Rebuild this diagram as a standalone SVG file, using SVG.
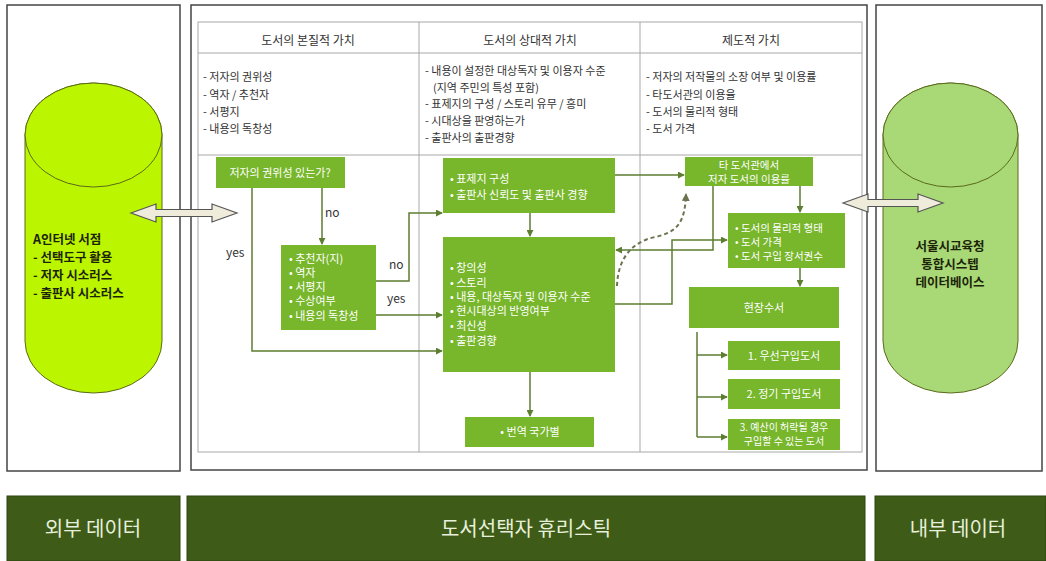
<svg xmlns="http://www.w3.org/2000/svg" width="1046" height="561" viewBox="0 0 1046 561">
<style>
text{font-family:"Noto Sans CJK KR","Noto Sans",sans-serif}
.panel{fill:#fff;stroke:#444;stroke-width:1.5}
.grid{fill:none;stroke:#a8a8a8;stroke-width:1}
.hdr{font-size:12px;fill:#333;text-anchor:middle}
.lst{font-size:11px;fill:#333}
.box{fill:#78b62b}
.bt{font-size:11px;fill:#fff}
.btc{font-size:11px;fill:#fff;text-anchor:middle}
.lbl{font-size:12px;fill:#333}
.con{fill:none;stroke:#5d7d30;stroke-width:1.5}
.band{fill:#3e5c17;stroke:#2c4410;stroke-width:1}
.bandt{font-size:20px;fill:#e8f0dc;text-anchor:middle}
.blk{fill:#efecdc;stroke:#555;stroke-width:1.2}
.cyl{stroke:#5a6a1a;stroke-width:1}
.cylt{font-size:12.5px;font-weight:bold;fill:#1c2408}
</style>
<defs>
<marker id="ah" viewBox="0 0 8 8" refX="7" refY="4" markerWidth="7" markerHeight="7" markerUnits="userSpaceOnUse" orient="auto">
<path d="M0,0 L8,4 L0,8 Z" fill="#5d7d30"/>
</marker>
<marker id="ahd" viewBox="0 0 8 8" refX="7" refY="4" markerWidth="8" markerHeight="8" markerUnits="userSpaceOnUse" orient="auto">
<path d="M0,0 L8,4 L0,8 Z" fill="#6a7550"/>
</marker>
</defs>
<rect width="1046" height="561" fill="#fff"/>
<!-- panels -->
<g id="panel-left"><rect class="panel" x="7" y="5" width="173" height="466"/></g>
<g id="panel-mid"><rect class="panel" x="191" y="5" width="676" height="465"/></g>
<g id="panel-right"><rect class="panel" x="876" y="5" width="166" height="466"/></g>
<!-- table -->
<g id="table">
<rect class="grid" x="198" y="22" width="664" height="430"/>
<line class="grid" x1="198" y1="53" x2="862" y2="53"/>
<line class="grid" x1="198" y1="155" x2="862" y2="155"/>
<line class="grid" x1="419" y1="22" x2="419" y2="452"/>
<line class="grid" x1="640" y1="22" x2="640" y2="452"/>
<text class="hdr" x="308" y="45">도서의 본질적 가치</text>
<text class="hdr" x="530" y="45">도서의 상대적 가치</text>
<text class="hdr" x="751" y="45">제도적 가치</text>
<text class="lst" x="203" y="81">- 저자의 권위성</text>
<text class="lst" x="203" y="99">- 역자 / 추천자</text>
<text class="lst" x="203" y="116">- 서평지</text>
<text class="lst" x="203" y="133">- 내용의 독창성</text>
<text class="lst" x="425" y="75">- 내용이 설정한 대상독자 및 이용자 수준</text>
<text class="lst" x="433" y="92">(지역 주민의 특성 포함)</text>
<text class="lst" x="425" y="108">- 표제지의 구성 / 스토리 유무 / 흥미</text>
<text class="lst" x="425" y="125">- 시대상을 판영하는가</text>
<text class="lst" x="425" y="142">- 출판사의 출판경향</text>
<text class="lst" x="646" y="81">- 저자의 저작물의 소장 여부 및 이용률</text>
<text class="lst" x="646" y="99">- 타도서관의 이용율</text>
<text class="lst" x="646" y="116">- 도서의 물리적 형태</text>
<text class="lst" x="646" y="133">- 도서 가격</text>
</g>
<!-- cylinders -->
<g id="db-external">
<path class="cyl" fill="#bcf500" d="M25,135 L25,341 A68.5,52 0 0 0 162,341 L162,135 A68.5,52 0 0 0 25,135 Z"/>
<ellipse class="cyl" fill="#bcf500" cx="93.5" cy="135" rx="68.5" ry="52"/>
<text class="cylt" x="33" y="244">A인터넷 서점</text>
<text class="cylt" x="33" y="262">- 선택도구 활용</text>
<text class="cylt" x="33" y="280">- 저자 시소러스</text>
<text class="cylt" x="33" y="298">- 출판사 시소러스</text>
</g>
<g id="db-internal">
<path class="cyl" fill="#a9d877" d="M883,135 L883,341 A67.5,52 0 0 0 1018,341 L1018,135 A67.5,52 0 0 0 883,135 Z"/>
<ellipse class="cyl" fill="#a9d877" cx="950.5" cy="135" rx="67.5" ry="52"/>
<text class="cylt" x="950" y="251" text-anchor="middle">서울시교육청</text>
<text class="cylt" x="950" y="269" text-anchor="middle">통합시스텝</text>
<text class="cylt" x="950" y="287" text-anchor="middle">데이터베이스</text>
</g>
<!-- block arrows -->
<g id="arrow-left"><path class="blk" d="M131,213 L156,204 L156,209.5 L212,209.5 L212,204 L237,213 L212,222 L212,216.5 L156,216.5 L156,222 Z"/></g>
<g id="arrow-right"><path class="blk" d="M843,203 L868,194 L868,199.5 L918,199.5 L918,194 L943,203 L918,212 L918,206.5 L868,206.5 L868,212 Z"/></g>
<!-- connectors -->
<g id="connectors">
<path class="con" d="M322,188 L322,244" marker-end="url(#ah)"/>
<path class="con" d="M252,188 L252,351 L442,351" marker-end="url(#ah)"/>
<path class="con" d="M376,281 L409,281 L409,213 L442,213" marker-end="url(#ah)"/>
<path class="con" d="M376,315 L442,315" marker-end="url(#ah)"/>
<path class="con" d="M530,213 L530,236" marker-end="url(#ah)"/>
<path class="con" d="M530,372 L530,416" marker-end="url(#ah)"/>
<path class="con" d="M615,175 L684,175" marker-end="url(#ah)"/>
<path class="con" d="M713,186 L713,250 L616,250" marker-end="url(#ah)"/>
<path class="con" d="M615,304 L672,304 L672,240 L727,240" marker-end="url(#ah)"/>
<path class="con" d="M800,186 L800,212" marker-end="url(#ah)"/>
<path class="con" d="M800,268 L800,286" marker-end="url(#ah)"/>
<path class="con" d="M697,332 L697,437"/>
<path class="con" d="M697,355 L727,355" marker-end="url(#ah)"/>
<path class="con" d="M697,397 L727,397" marker-end="url(#ah)"/>
<path class="con" d="M697,437 L727,437" marker-end="url(#ah)"/>
<path d="M617,286 C618,258 632,242 655,237 C678,232 685,222 686,194" fill="none" stroke="#6a7550" stroke-width="2" stroke-dasharray="4,3" marker-end="url(#ahd)"/>
<text class="lbl" x="325" y="217">no</text>
<text class="lbl" x="226" y="257">yes</text>
<text class="lbl" x="389" y="269">no</text>
<text class="lbl" x="387" y="303">yes</text>
</g>
<!-- nodes -->
<g id="n-authority"><rect class="box" x="216" y="157" width="129" height="31"/><text class="btc" x="280" y="177">저자의 권위성 있는가?</text></g>
<g id="n-recommend"><rect class="box" x="281" y="245" width="95" height="85"/>
<text class="bt" x="289" y="263">• 추천자(지)</text>
<text class="bt" x="289" y="277">• 역자</text>
<text class="bt" x="289" y="291">• 서평지</text>
<text class="bt" x="289" y="305">• 수상여부</text>
<text class="bt" x="289" y="320">• 내용의 독창성</text></g>
<g id="n-title"><rect class="box" x="443" y="158" width="172" height="55"/>
<text class="bt" x="450" y="183">• 표제지 구성</text>
<text class="bt" x="450" y="199">• 출판사 신뢰도 및 출판사 경향</text></g>
<g id="n-content"><rect class="box" x="443" y="237" width="172" height="135"/>
<text class="bt" x="450" y="272">• 창의성</text>
<text class="bt" x="450" y="287">• 스토리</text>
<text class="bt" x="450" y="301">• 내용, 대상독자 및 이용자 수준</text>
<text class="bt" x="450" y="315">• 현시대상의 반영여부</text>
<text class="bt" x="450" y="330">• 최신성</text>
<text class="bt" x="450" y="345">• 출판경향</text></g>
<g id="n-translate"><rect class="box" x="465" y="417" width="129" height="30"/><text class="btc" x="530" y="436">• 번역 국가별</text></g>
<g id="n-other-lib"><rect class="box" x="685" y="157" width="128" height="29"/>
<text class="btc" x="749" y="169" style="font-size:10.5px">타 도서관에서</text>
<text class="btc" x="749" y="183" style="font-size:10.5px">저자 도서의 이용률</text></g>
<g id="n-physical"><rect class="box" x="728" y="213" width="117" height="55"/>
<text class="bt" x="735" y="232" style="font-size:10.5px">• 도서의 물리적 형태</text>
<text class="bt" x="735" y="246" style="font-size:10.5px">• 도서 가격</text>
<text class="bt" x="735" y="260" style="font-size:10.5px">• 도서 구입 장서권수</text></g>
<g id="n-field"><rect class="box" x="689" y="287" width="150" height="41"/><text class="btc" x="764" y="312">현장수서</text></g>
<g id="n-priority"><rect class="box" x="728" y="341" width="112" height="29"/><text class="btc" x="784" y="360">1. 우선구입도서</text></g>
<g id="n-regular"><rect class="box" x="728" y="379" width="112" height="30"/><text class="btc" x="784" y="398">2. 정기 구입도서</text></g>
<g id="n-budget"><rect class="box" x="728" y="419" width="112" height="31"/>
<text class="btc" x="784" y="431" style="font-size:10px">3. 예산이 허락될 경우</text>
<text class="btc" x="784" y="445" style="font-size:10px">구입할 수 있는 도서</text></g>
<!-- bottom bands -->
<g id="band-external"><rect class="band" x="7" y="496" width="173" height="65"/><text class="bandt" x="93" y="536">외부 데이터</text></g>
<g id="band-heuristic"><rect class="band" x="187" y="496" width="678" height="65"/><text class="bandt" x="526" y="536">도서선택자 휴리스틱</text></g>
<g id="band-internal"><rect class="band" x="875" y="496" width="171" height="65"/><text class="bandt" x="958" y="536">내부 데이터</text></g>
</svg>
